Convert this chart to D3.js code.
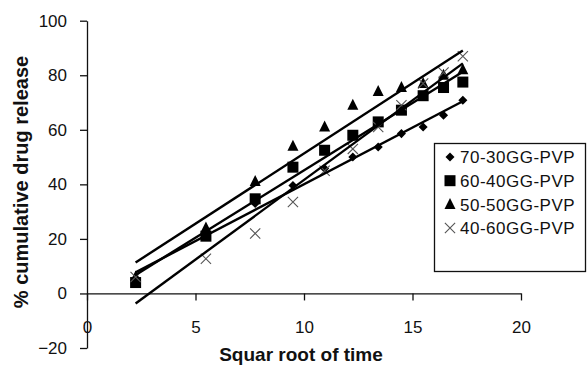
<!DOCTYPE html>
<html>
<head>
<meta charset="utf-8">
<script src="https://cdn.jsdelivr.net/npm/d3@7"></script>
<style>
  body { margin: 0; background: #fff; }
  svg { display: block; font-family: "Liberation Sans", Arial, sans-serif; }
  .axis path, .axis line { stroke: #111; stroke-width: 1.3; }
  .axis text { font-size: 17px; fill: #111; font-family: "Liberation Sans", Arial, sans-serif; }
</style>
</head>
<body>
<svg id="chart" width="587" height="365"></svg>
<script>
// square root of time
const sqrtTime = [2.24, 5.48, 7.75, 9.49, 10.95, 12.25, 13.42, 14.49, 15.49, 16.43, 17.32];
const seriesNames = ["70-30GG-PVP", "60-40GG-PVP", "50-50GG-PVP", "40-60GG-PVP"];
const release7030 = [5, 21, 33, 39.6, 45.8, 50, 53.7, 58.6, 61, 65.3, 70.8];
const release6040 = [4, 21, 34.7, 46.3, 52.5, 58, 62.9, 67.2, 72.5, 75.5, 77.5];
const release5050 = [6, 24, 41, 54, 61, 69, 74, 75.5, 77, 80, 82];
const release4060 = [6, 12.7, 22, 33.5, 45, 53, 61, 69, 77, 81, 87];
const xTicks = [0, 5, 10, 15, 20];
const yTicks = [-20, 0, 20, 40, 60, 80, 100];

const seriesValues = [release7030, release6040, release5050, release4060];
const markers = ["diamond", "square", "triangle", "cross"];

const svg = d3.select("#chart");

const x = d3.scaleLinear().domain([0, 20]).range([87, 521]);
const y = d3.scaleLinear().domain([-20, 100]).range([348, 20.7]);

// axes
svg.append("g")
    .attr("class", "axis")
    .attr("transform", `translate(0,${y(0)})`)
    .call(d3.axisBottom(x).tickValues(xTicks).tickSize(7).tickSizeOuter(0).tickPadding(20));

svg.append("g")
    .attr("class", "axis")
    .attr("transform", `translate(${x(0)},0)`)
    .call(d3.axisLeft(y).tickValues(yTicks).tickSize(7).tickSizeOuter(0).tickPadding(13));

// axis titles
svg.append("text")
    .attr("x", 301)
    .attr("y", 361)
    .attr("text-anchor", "middle")
    .style("font-size", "19px")
    .style("font-weight", "bold")
    .attr("fill", "#111")
    .text("Squar root of time");

svg.append("text")
    .attr("transform", "translate(28,182) rotate(-90)")
    .attr("text-anchor", "middle")
    .style("font-size", "20px")
    .style("font-weight", "bold")
    .attr("fill", "#111")
    .text("% cumulative drug release");

// marker shapes
function drawMarker(g, type, cx, cy) {
    if (type === "diamond") {
        g.append("rect")
            .attr("x", -3.2).attr("y", -3.2).attr("width", 6.4).attr("height", 6.4)
            .attr("transform", `translate(${cx},${cy}) rotate(45)`)
            .attr("fill", "#000");
    } else if (type === "square") {
        g.append("rect")
            .attr("x", cx - 5.5).attr("y", cy - 5.5).attr("width", 11).attr("height", 11)
            .attr("fill", "#000");
    } else if (type === "triangle") {
        g.append("path")
            .attr("d", `M${cx},${cy - 6.5}L${cx + 5.5},${cy + 4.5}L${cx - 5.5},${cy + 4.5}Z`)
            .attr("fill", "#000");
    } else {
        g.append("path")
            .attr("d", d3.symbol().type(d3.symbolTimes).size(70)())
            .attr("transform", `translate(${cx},${cy})`)
            .attr("fill", "none")
            .attr("stroke", "#555")
            .attr("stroke-width", 1.1);
    }
}

// least squares trend line from the data
function trend(xs, ys) {
    const mx = d3.mean(xs), my = d3.mean(ys);
    const sxy = d3.sum(xs, (v, i) => (v - mx) * (ys[i] - my));
    const sxx = d3.sum(xs, v => (v - mx) * (v - mx));
    const slope = sxy / sxx;
    return { slope: slope, intercept: my - slope * mx };
}

const pts = svg.append("g");
seriesValues.forEach((vals, s) => {
    vals.forEach((v, i) => drawMarker(pts, markers[s], x(sqrtTime[i]), y(v)));
});

const lines = svg.append("g");
seriesValues.forEach(vals => {
    const t = trend(sqrtTime, vals);
    const x0 = d3.min(sqrtTime), x1 = d3.max(sqrtTime);
    lines.append("line")
        .attr("x1", x(x0)).attr("y1", y(t.intercept + t.slope * x0))
        .attr("x2", x(x1)).attr("y2", y(t.intercept + t.slope * x1))
        .attr("stroke", "#000")
        .attr("stroke-width", 2.4);
});

// legend
const legend = svg.append("g");
legend.append("rect")
    .attr("x", 434.5).attr("y", 143.5).attr("width", 151).attr("height", 128)
    .attr("fill", "#fff")
    .attr("stroke", "#111")
    .attr("stroke-width", 1.3);

seriesNames.forEach((name, i) => {
    const ly = 157 + i * 23.7;
    drawMarker(legend, markers[i], 450, ly);
    legend.append("text")
        .attr("x", 460)
        .attr("y", ly)
        .attr("dy", "0.36em")
        .style("font-size", "17px")
        .style("letter-spacing", "0.5px")
        .attr("fill", "#111")
        .text(name);
});
</script>
</body>
</html>
